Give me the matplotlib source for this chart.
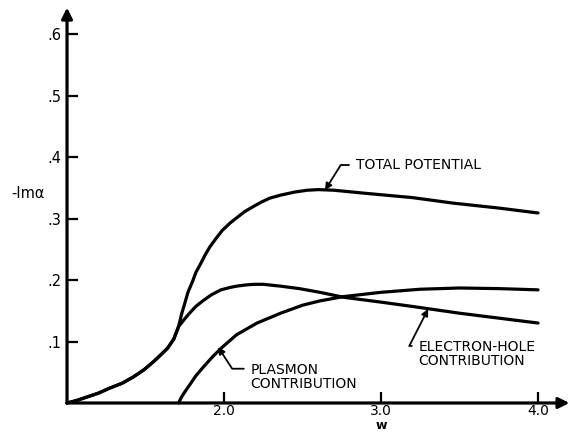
import matplotlib
matplotlib.use("Agg")
import matplotlib.pyplot as plt

# Frequency grid and curves (w, -Im alpha)
eh_w = [1.00, 1.06, 1.13, 1.20, 1.27, 1.35, 1.42, 1.49, 1.55, 1.60, 1.64, 1.68,
        1.71, 1.75, 1.78, 1.82, 1.87, 1.92, 1.98, 2.04, 2.08, 2.14, 2.19, 2.25,
        2.36, 2.48, 2.61, 2.76, 3.00, 3.20, 3.50, 3.75, 4.00]
eh_val = [0.000, 0.004, 0.010, 0.016, 0.024, 0.032, 0.042, 0.054, 0.067, 0.079,
          0.089, 0.104, 0.124, 0.137, 0.146, 0.157, 0.167, 0.176, 0.184, 0.188,
          0.190, 0.192, 0.193, 0.193, 0.190, 0.186, 0.180, 0.172, 0.164, 0.157,
          0.146, 0.138, 0.130]

pl_w = [1.71, 1.73, 1.75, 1.78, 1.82, 1.87, 1.93, 1.99, 2.08, 2.21, 2.36, 2.50,
        2.61, 2.76, 3.00, 3.25, 3.50, 3.75, 4.00]
pl_val = [0.000, 0.010, 0.018, 0.029, 0.044, 0.059, 0.076, 0.091, 0.111, 0.130,
          0.146, 0.159, 0.166, 0.173, 0.180, 0.185, 0.187, 0.186, 0.184]

tot_w = [1.00, 1.06, 1.13, 1.20, 1.27, 1.35, 1.42, 1.49, 1.55, 1.60, 1.64, 1.68,
         1.71, 1.73, 1.75, 1.77, 1.80, 1.82, 1.85, 1.88, 1.91, 1.95, 1.99, 2.04,
         2.08, 2.13, 2.19, 2.24, 2.29, 2.36, 2.45, 2.53, 2.60, 2.70, 2.90, 3.20,
         3.46, 3.75, 4.00]
tot_val = [0.000, 0.004, 0.010, 0.016, 0.024, 0.032, 0.042, 0.054, 0.067, 0.079,
           0.089, 0.104, 0.124, 0.145, 0.162, 0.180, 0.198, 0.212, 0.226, 0.241,
           0.254, 0.268, 0.281, 0.293, 0.301, 0.311, 0.320, 0.327, 0.333, 0.338,
           0.343, 0.346, 0.347, 0.346, 0.341, 0.334, 0.325, 0.317, 0.309]

x_ticks = [2.0, 3.0, 4.0]
x_tick_labels = ["2.0", "3.0", "4.0"]
y_ticks = [0.1, 0.2, 0.3, 0.4, 0.5, 0.6]
y_tick_labels = [".1", ".2", ".3", ".4", ".5", ".6"]

plt.rcParams["font.family"] = ["DejaVu Sans"]

fig = plt.figure(figsize=(5.69, 4.33), dpi=100)
ax = fig.add_axes([0.1178, 0.0693, 0.8830, 0.9160])
ax.set_xlim(1.0, 4.2)
ax.set_ylim(0.0, 0.645)

line_kw = dict(color="black", lw=2.3, solid_joinstyle="round",
               solid_capstyle="round", clip_on=False)
ax.plot(tot_w, tot_val, **line_kw)
ax.plot(eh_w, eh_val, **line_kw)
ax.plot(pl_w, pl_val, **line_kw)

# Axes drawn as arrows
for s in ax.spines.values():
    s.set_visible(False)
axis_arrow = dict(arrowstyle="-|>", lw=2.3, color="black", mutation_scale=16,
                  shrinkA=0, shrinkB=0)
ax.annotate("", xy=(1.0, 0.643), xytext=(1.0, 0.0), arrowprops=axis_arrow,
            annotation_clip=False)
ax.annotate("", xy=(4.2, 0.0), xytext=(1.0, 0.0), arrowprops=axis_arrow,
            annotation_clip=False)

ax.set_xticks(x_ticks)
ax.set_xticklabels(x_tick_labels)
ax.set_yticks(y_ticks)
ax.set_yticklabels(y_tick_labels)
ax.tick_params(direction="in", length=8, width=1.6, labelsize=10.5)
ax.tick_params(axis="x", pad=1, labelsize=10)
ax.tick_params(axis="y", pad=4)

ax.text(3.0, -0.0468, "w", ha="center", va="bottom", fontsize=9,
        fontweight="bold")
fig.text(28 / 569, 1 - 193 / 433, "-Im\u03b1", ha="center", va="center",
         fontsize=10.5)

# Curve labels with angled leaders
lbl_kw = dict(fontsize=10, ha="left", va="center", linespacing=1.0,
              annotation_clip=False)
ax.annotate("TOTAL POTENTIAL", xy=(2.643, 0.346), xytext=(2.84, 0.387),
            arrowprops=dict(arrowstyle="-|>", lw=1.3, color="black",
                            mutation_scale=10, relpos=(0, 0.5),
                            shrinkA=3, shrinkB=0,
                            connectionstyle="angle,angleA=0,angleB=58,rad=0"),
            **lbl_kw)
ax.annotate("ELECTRON-HOLE\nCONTRIBUTION", xy=(3.30, 0.153),
            xytext=(3.24, 0.080),
            arrowprops=dict(arrowstyle="-|>", lw=1.3, color="black",
                            mutation_scale=10, relpos=(0, 0.78),
                            shrinkA=3, shrinkB=0,
                            connectionstyle="angle,angleA=0,angleB=63,rad=0"),
            **lbl_kw)
ax.annotate("PLASMON\nCONTRIBUTION", xy=(1.962, 0.091), xytext=(2.17, 0.043),
            arrowprops=dict(arrowstyle="-|>", lw=1.3, color="black",
                            mutation_scale=10, relpos=(0, 0.78),
                            shrinkA=3, shrinkB=0,
                            connectionstyle="angle,angleA=0,angleB=123,rad=0"),
            **lbl_kw)

fig.savefig("out.png", dpi=100)
